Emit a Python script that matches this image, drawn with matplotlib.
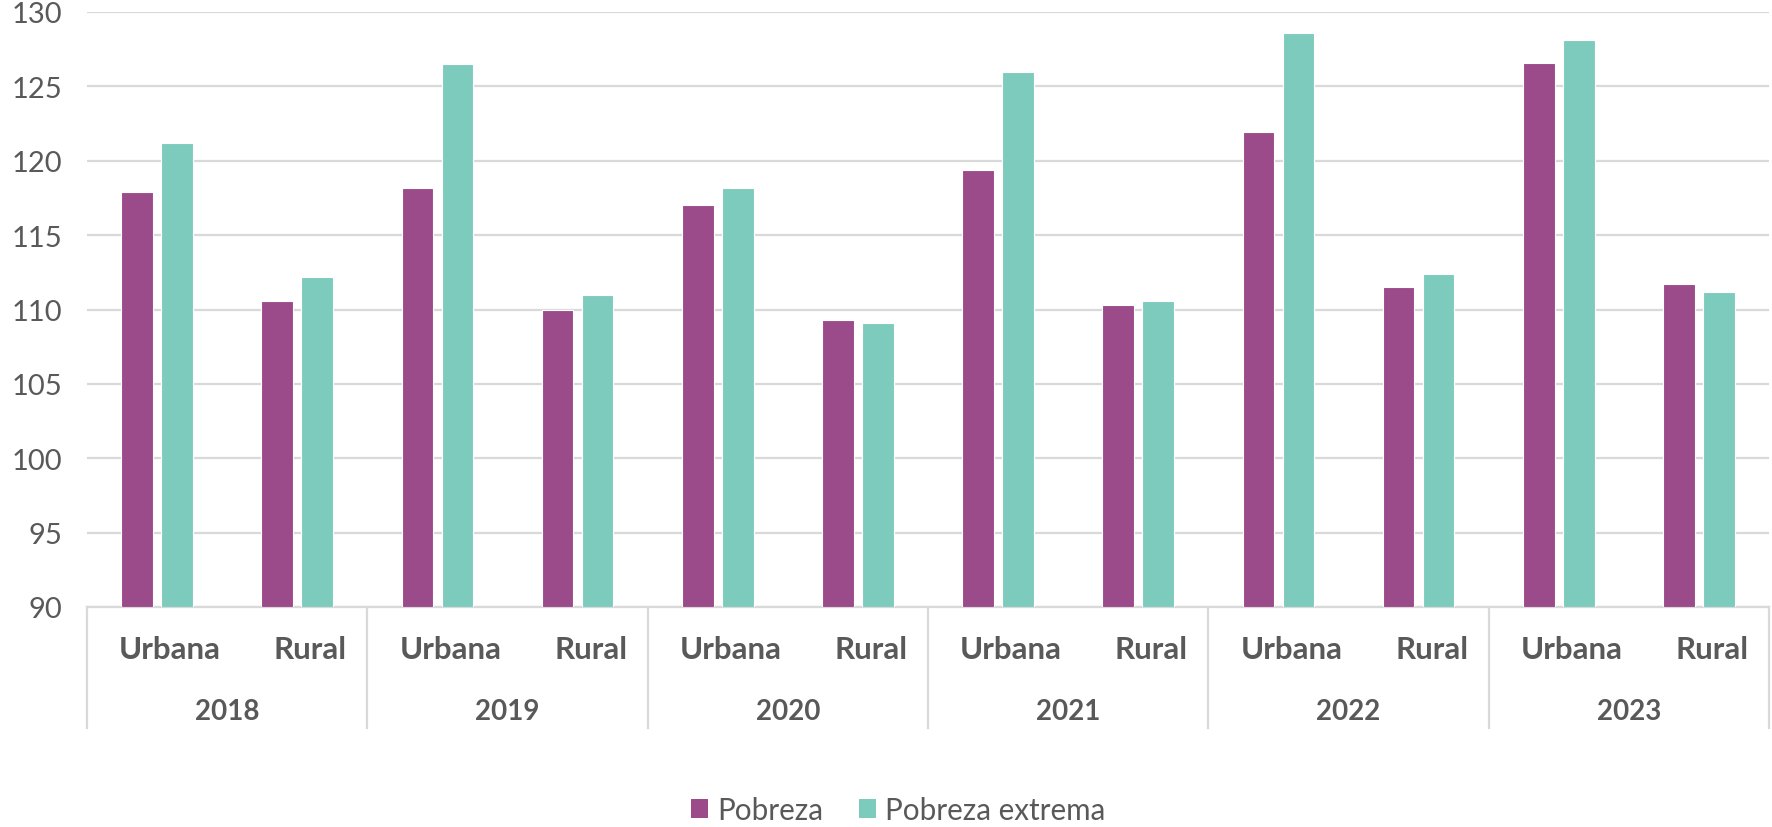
import matplotlib
matplotlib.use("Agg")
import matplotlib.pyplot as plt
from matplotlib.patches import Patch
import matplotlib.transforms as mtransforms
import numpy as np

years = ["2018", "2019", "2020", "2021", "2022", "2023"]
areas = ["Urbana", "Rural"]
pobreza = [117.9, 110.6, 118.2, 110.0, 117.0, 109.3, 119.4, 110.3, 121.9, 111.5, 126.6, 111.7]
pobreza_extrema = [121.2, 112.2, 126.5, 111.0, 118.2, 109.1, 126.0, 110.6, 128.6, 112.4, 128.1, 111.2]
series_names = ["Pobreza", "Pobreza extrema"]
yticks = [90, 95, 100, 105, 110, 115, 120, 125, 130]

c_pob = "#9B4A8A"
c_ext = "#7DCBBD"
txt = "#595959"
grid = "#D9D9D9"

plt.rcParams['font.family'] = ['Lato', 'DejaVu Sans']

fig = plt.figure(figsize=(17.72, 8.28), dpi=100)
ax = fig.add_axes([87/1772, 1-608/828, (1769-87)/1772, (608-13)/828])

n = len(years) * len(areas)
x = np.arange(n)
bw = 0.226
gap = 0.06
ax.bar(x - bw/2 - gap/2, np.array(pobreza) - 90, bottom=90, width=bw, color=c_pob,
       edgecolor="white", linewidth=0.8, zorder=3)
ax.bar(x + bw/2 + gap/2, np.array(pobreza_extrema) - 90, bottom=90, width=bw, color=c_ext,
       edgecolor="white", linewidth=0.8, zorder=3)

ax.set_xlim(-0.5, n - 0.5)
ax.set_ylim(90, 130)
ax.set_yticks(yticks)
ax.set_yticklabels([str(t) for t in yticks], fontsize=21, color=txt)
ax.tick_params(axis='y', length=0, pad=17.5)
ax.set_xticks([])
ax.yaxis.grid(True, color=grid, linewidth=1.6, zorder=0)
ax.set_axisbelow(True)
for s in ["left", "right", "top"]:
    ax.spines[s].set_visible(False)
ax.spines["bottom"].set_color(grid)
ax.spines["bottom"].set_linewidth(1.6)

trans = mtransforms.blended_transform_factory(ax.transData, ax.transAxes)
lab_trans = trans + mtransforms.ScaledTranslation(13/100, 0, fig.dpi_scale_trans)
for k in range(len(years) + 1):
    xs = -0.5 + 2 * k
    ax.plot([xs, xs], [0, -0.203], transform=trans, color=grid, linewidth=1.6, clip_on=False)
for i in range(n):
    ax.text(x[i], -0.0706, areas[i % 2], transform=lab_trans, ha="center", va="center",
            fontsize=22.5, fontweight="bold", color=txt)
for j, yr in enumerate(years):
    ax.text(2 * j + 0.5, -0.175, yr, transform=trans, ha="center", va="center",
            fontsize=20, fontweight="bold", color=txt)

handles = [Patch(facecolor=c_pob, edgecolor="none"), Patch(facecolor=c_ext, edgecolor="none")]
fig.legend(handles, series_names, loc="center", bbox_to_anchor=(898/1772, 1-811/828),
           ncol=2, frameon=False, fontsize=21.3, labelcolor=txt,
           handlelength=0.6, handleheight=0.6, handletextpad=0.3, columnspacing=1.2)

fig.savefig("out.png", dpi=100)
